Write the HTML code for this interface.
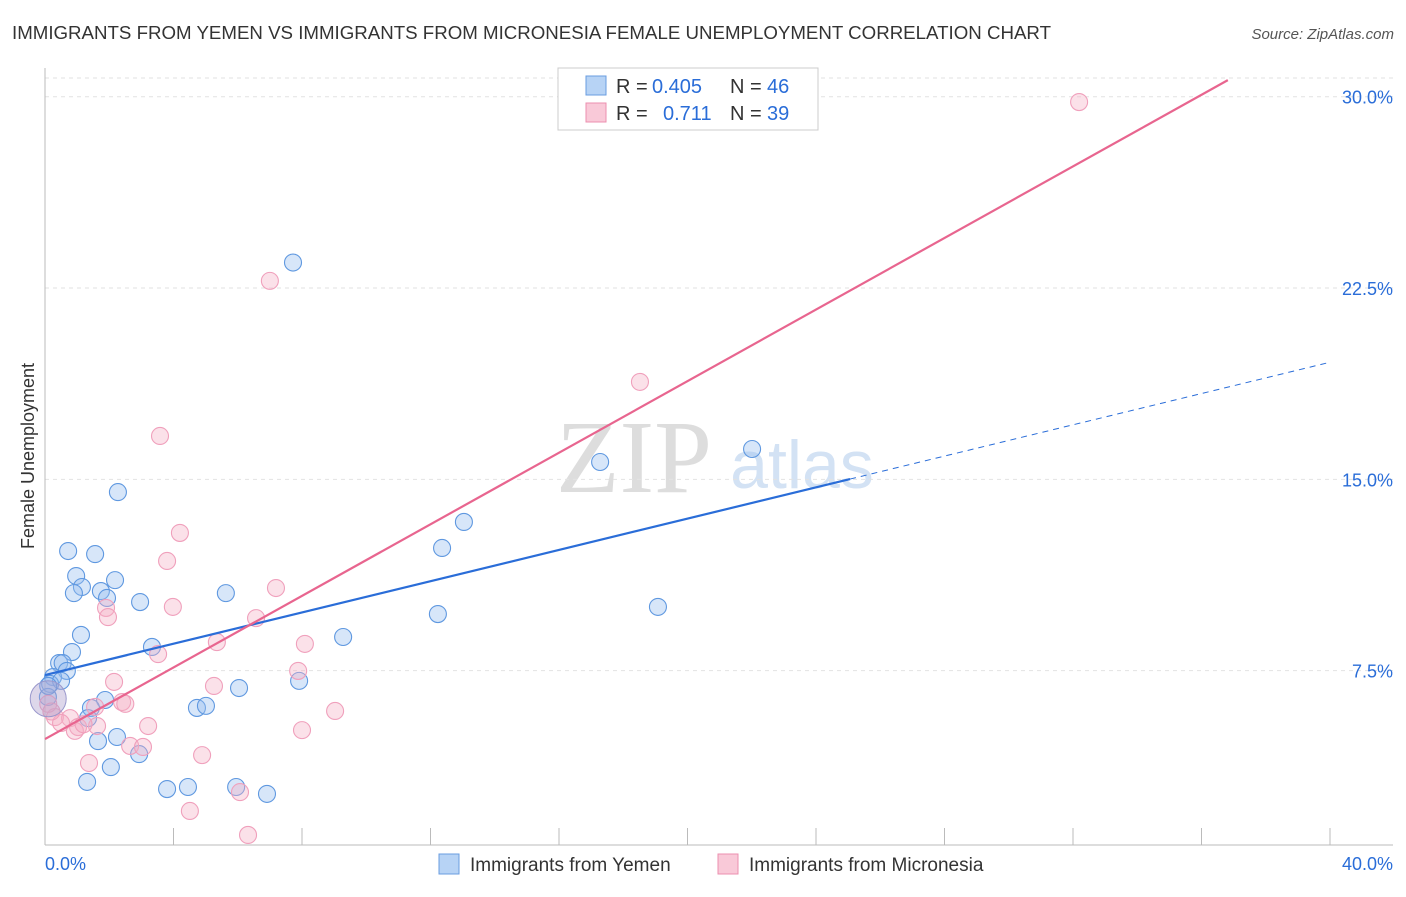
<!DOCTYPE html>
<html><head><meta charset="utf-8"><style>
body{margin:0;background:#fff;font-family:"Liberation Sans",sans-serif;}
svg text{font-family:"Liberation Sans",sans-serif;}
</style></head><body>
<svg id="c" width="1406" height="892">
<text x="12" y="39" font-size="18.7" fill="#333">IMMIGRANTS FROM YEMEN VS IMMIGRANTS FROM MICRONESIA FEMALE UNEMPLOYMENT CORRELATION CHART</text>
<text x="1394" y="39" font-size="15" fill="#555" text-anchor="end" font-style="italic">Source: ZipAtlas.com</text>
<text x="34" y="456" font-size="18" fill="#333" text-anchor="middle" transform="rotate(-90 34 456)">Female Unemployment</text>
<text x="634" y="492" font-size="104" fill="#ddd" style="font-family:'Liberation Serif',serif" text-anchor="middle">ZIP</text>
<text x="802" y="488" font-size="68" fill="#d3e2f4" text-anchor="middle">atlas</text>
<g id="grid"></g><g id="axes"></g><g id="pts"></g><g id="lines"></g>
<g>
<rect x="558" y="68" width="260" height="62" fill="#fff" stroke="#ccc"/>
<rect x="586" y="76" width="20" height="19" fill="#b7d3f5" stroke="#6a9de0"/>
<rect x="586" y="103" width="20" height="19" fill="#f9c9d8" stroke="#ec8faf"/>
<text x="616" y="93" font-size="20" fill="#333">R =</text>
<text x="652" y="93" font-size="20" fill="#2a6dd8">0.405</text>
<text x="730" y="93" font-size="20" fill="#333">N =</text>
<text x="767" y="93" font-size="20" fill="#2a6dd8">46</text>
<text x="616" y="120" font-size="20" fill="#333">R =</text>
<text x="663" y="120" font-size="20" fill="#2a6dd8">0.711</text>
<text x="730" y="120" font-size="20" fill="#333">N =</text>
<text x="767" y="120" font-size="20" fill="#2a6dd8">39</text>
</g>
<g>
<rect x="439" y="854" width="20" height="20" fill="#b7d3f5" stroke="#6a9de0"/>
<text x="470" y="871" font-size="19" fill="#333">Immigrants from Yemen</text>
<rect x="718" y="854" width="20" height="20" fill="#f9c9d8" stroke="#ec8faf"/>
<text x="749" y="871" font-size="19" fill="#333">Immigrants from Micronesia</text>
</g>
</svg>
<script>
const yTicks=[7.5,15,22.5,30];
const yTickLabels=["7.5%","15.0%","22.5%","30.0%"];
const xEndLabels=["0.0%","40.0%"];
const blueX=[7.72,2.27,0.72,1.56,0.97,1.15,2.18,0.90,1.74,1.93,2.96,5.63,1.12,3.33,0.84,0.44,0.55,0.68,0.25,0.16,0.5,1.87,1.43,1.34,1.65,2.24,2.93,2.05,1.31,3.8,4.45,5.95,6.91,4.73,5.01,6.04,7.91,9.28,12.23,12.36,13.04,17.28,19.08,22.01,0.09,0.1];
const blueY=[23.5,14.5,12.19,12.07,11.21,10.78,11.05,10.54,10.62,10.35,10.19,10.54,8.9,8.43,8.23,7.8,7.8,7.49,7.25,6.98,7.1,6.35,6.04,5.64,4.74,4.9,4.23,3.72,3.14,2.86,2.94,2.94,2.67,6.04,6.12,6.82,7.1,8.82,9.72,12.31,13.33,15.68,10.0,16.19,6.47,6.9];
const pinkX=[32.19,7.0,18.52,3.58,4.2,3.8,7.19,1.9,1.96,3.98,6.57,5.35,8.09,3.52,7.88,5.26,2.15,2.4,1.56,0.31,0.78,0.5,1.03,1.62,0.93,3.21,9.03,8.0,2.65,3.05,4.89,1.37,6.07,4.51,6.32,0.1,0.2,1.2,2.5];
const pinkY=[29.79,22.78,18.82,16.7,12.9,11.8,10.74,9.96,9.6,10.0,9.56,8.62,8.55,8.15,7.49,6.9,7.06,6.27,6.08,5.68,5.64,5.45,5.29,5.33,5.14,5.33,5.92,5.17,4.55,4.51,4.19,3.88,2.74,2.0,1.06,6.2,5.9,5.4,6.2];
const blueFit=[7.33,0.3065], pinkFit=[4.82,0.7015];
const X=v=>45+v/40*1285, Y=v=>862-v*25.51;
const NS="http://www.w3.org/2000/svg";
function mk(p,t,a){const e=document.createElementNS(NS,t);for(const k in a)e.setAttribute(k,a[k]);document.getElementById(p).appendChild(e);return e;}
yTicks.forEach((t,i)=>{
 const g=mk('grid','line',{x1:45,x2:1393,y1:Y(t),y2:Y(t),stroke:'#e2e2e2','stroke-dasharray':'4 4'});
 
 
 const l=mk('axes','text',{x:1393,y:Y(t)+7,'font-size':18,fill:'#2a6dd8','text-anchor':'end'});l.textContent=yTickLabels[i];
 
 
});
const topLine=mk('grid','line',{x1:45,x2:1393,y1:78,y2:78,stroke:'#e2e2e2','stroke-dasharray':'4 4'});


mk('axes','line',{x1:45,x2:45,y1:68,y2:845,stroke:'#bbb'});
mk('axes','line',{x1:45,x2:1393,y1:845,y2:845,stroke:'#bbb'});
for(let i=1;i<=10;i++){const tk=mk('axes','line',{x1:X(i*4),x2:X(i*4),y1:828,y2:845,stroke:'#bbb'});
 
 }
const a=mk('axes','text',{x:45,y:870,'font-size':18,fill:'#2a6dd8'});a.textContent=xEndLabels[0];


const b=mk('axes','text',{x:1393,y:870,'font-size':18,fill:'#2a6dd8','text-anchor':'end'});b.textContent=xEndLabels[1];


blueX.forEach((x,i)=>{const c=mk('pts','circle',{cx:X(x),cy:Y(blueY[i]),r:8.5,fill:'rgba(150,190,240,0.38)',stroke:'#5f98e0','stroke-width':1.1});
 
 });
pinkX.forEach((x,i)=>{const c=mk('pts','circle',{cx:X(x),cy:Y(pinkY[i]),r:8.5,fill:'rgba(245,175,198,0.38)',stroke:'#f0a0bc','stroke-width':1.1});
 
 });
const bb=mk('pts','circle',{cx:X(0.1),cy:Y(6.4),r:18,fill:'rgba(175,160,205,0.42)',stroke:'#9a98cc'});


const bl=mk('lines','line',{x1:X(0),y1:Y(blueFit[0]),x2:X(25.06),y2:Y(blueFit[0]+blueFit[1]*25.06),stroke:'#2a6dd8','stroke-width':2.2});


const bd=mk('lines','line',{x1:X(25.06),y1:Y(blueFit[0]+blueFit[1]*25.06),x2:X(40),y2:Y(blueFit[0]+blueFit[1]*40),stroke:'#2a6dd8','stroke-width':1,'stroke-dasharray':'6 5'});


const pl=mk('lines','line',{x1:X(0),y1:Y(pinkFit[0]),x2:X(36.82),y2:Y(pinkFit[0]+pinkFit[1]*36.82),stroke:'#e8658f','stroke-width':2.2});


</script>
</body></html>
